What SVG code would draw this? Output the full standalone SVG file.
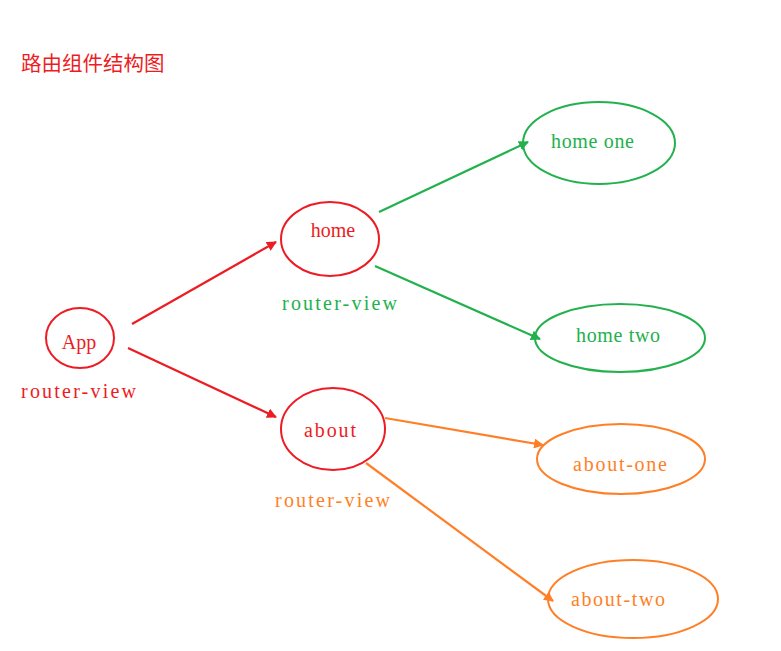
<svg xmlns="http://www.w3.org/2000/svg" width="781" height="651" viewBox="0 0 781 651">
<style>
.bg{fill:#ffffff}
.node{fill:none;stroke-width:2}
.red{stroke:#ed1c24}
.green{stroke:#22b14c}
.orange{stroke:#ff7f27}
.t{font-family:"Liberation Serif","DejaVu Serif",serif;font-size:20px}
.tr{fill:#ed1c24}
.tg{fill:#22b14c}
.to{fill:#ff7f27}
.c{text-anchor:middle}
.edge{fill:none;stroke-width:2.2}
</style>
<defs>
<marker id="ar" viewBox="0 0 10 10" refX="9" refY="5" markerWidth="10" markerHeight="10" markerUnits="userSpaceOnUse" orient="auto"><path d="M0,0 L10,5 L0,10 Z" fill="#ed1c24"/></marker>
<marker id="ag" viewBox="0 0 10 10" refX="9" refY="5" markerWidth="10" markerHeight="10" markerUnits="userSpaceOnUse" orient="auto"><path d="M0,0 L10,5 L0,10 Z" fill="#22b14c"/></marker>
<marker id="ao" viewBox="0 0 10 10" refX="9" refY="5" markerWidth="10" markerHeight="10" markerUnits="userSpaceOnUse" orient="auto"><path d="M0,0 L10,5 L0,10 Z" fill="#ff7f27"/></marker>
</defs>
<rect class="bg" x="0" y="0" width="781" height="651"/>
<text id="title" x="21" y="71" font-family="'Noto Sans CJK SC',sans-serif" font-size="20.5" fill="#ed1c24">路由组件结构图</text>
<g id="connectors">
<line class="edge red" x1="132" y1="324" x2="276" y2="242" marker-end="url(#ar)"/>
<line class="edge red" x1="128" y1="348" x2="276" y2="417" marker-end="url(#ar)"/>
<line class="edge green" x1="379" y1="212" x2="528" y2="142" marker-end="url(#ag)"/>
<line class="edge green" x1="375" y1="266" x2="540" y2="339" marker-end="url(#ag)"/>
<line class="edge orange" x1="385" y1="418" x2="543" y2="445" marker-end="url(#ao)"/>
<line class="edge orange" x1="366" y1="463" x2="553" y2="601" marker-end="url(#ao)"/>
</g>
<g id="app">
<ellipse class="node red" cx="80" cy="338" rx="34" ry="30"/>
<text class="t tr c" x="79" y="349">App</text>
<text class="t tr" x="21" y="398" textLength="115" lengthAdjust="spacing">router-view</text>
</g>
<g id="home">
<ellipse class="node red" cx="330" cy="239" rx="49" ry="37"/>
<text class="t tr c" x="333" y="237">home</text>
<text class="t tg" x="282" y="310" textLength="115" lengthAdjust="spacing">router-view</text>
</g>
<g id="about">
<ellipse class="node red" cx="333" cy="429" rx="52" ry="41"/>
<text class="t tr" x="304" y="437" textLength="52" lengthAdjust="spacing">about</text>
<text class="t to" x="275" y="507" textLength="115" lengthAdjust="spacing">router-view</text>
</g>
<g id="home-one">
<ellipse class="node green" cx="599" cy="143" rx="76" ry="41"/>
<text class="t tg" x="551" y="148" textLength="83" lengthAdjust="spacing">home one</text>
</g>
<g id="home-two">
<ellipse class="node green" cx="620" cy="338" rx="85" ry="34"/>
<text class="t tg" x="576" y="342" textLength="84" lengthAdjust="spacing">home two</text>
</g>
<g id="about-one">
<ellipse class="node orange" cx="621" cy="459" rx="84" ry="35"/>
<text class="t to" x="573" y="471" textLength="94" lengthAdjust="spacing">about-one</text>
</g>
<g id="about-two">
<ellipse class="node orange" cx="633" cy="599" rx="85" ry="39"/>
<text class="t to" x="571" y="606" textLength="94" lengthAdjust="spacing">about-two</text>
</g>
</svg>
